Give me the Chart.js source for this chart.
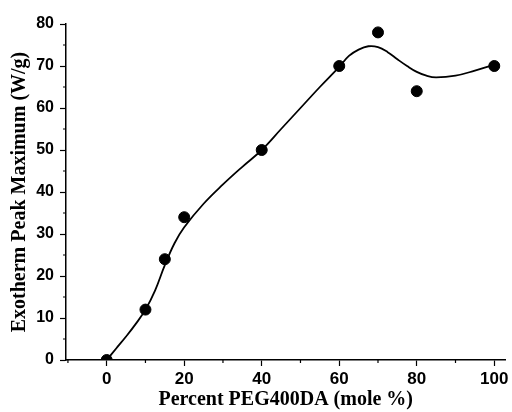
<!DOCTYPE html>
<html lang="en">
<head>
  <meta charset="UTF-8">
  <title>Exotherm Peak Maximum</title>
  <script src="https://cdn.jsdelivr.net/npm/chart.js"></script>
  <style>
    html, body { margin: 0; padding: 0; background: #fff; overflow: hidden; }
    #wrap { width: 512px; height: 412px; position: relative; }
    canvas { display: block; }
  </style>
</head>
<body>
  <div id="wrap"><canvas id="exoChart"></canvas></div>

  <script>
    // measured points
    const pegPercent = [0, 10, 15, 20, 40, 60, 70, 80, 100];
    const peakMax = [0, 12, 24, 34, 50, 70, 78, 64, 70];

    // fitted curve
    const curveX = [0, 2.5, 5, 7.5, 10, 12.5, 15, 17.5, 20, 25, 30, 35, 40, 45, 50, 55, 60, 62.5, 65, 67.5, 70, 72.5, 75, 77.5, 80, 82.5, 85, 90, 95, 100];
    const curveY = [0, 2.8, 5.6, 8.6, 12.0, 16.6, 22.6, 27.8, 31.6, 37.2, 41.8, 46.0, 50.0, 55.0, 60.0, 65.0, 69.8, 72.4, 73.9, 74.7, 74.5, 73.3, 71.6, 70.0, 68.6, 67.7, 67.3, 67.7, 68.9, 70.3];

    const xTicks = [0, 20, 40, 60, 80, 100];
    const yTicks = [0, 10, 20, 30, 40, 50, 60, 70, 80];

    const xTickFont = { family: 'Liberation Sans', size: 17, weight: 'bold' };
    const yTickFont = { family: 'Liberation Sans', size: 16, weight: 'bold' };
    const titleFont = { family: 'Liberation Serif', size: 20, weight: 'bold' };

    // short ticks halfway between the labelled ones
    const minorTicks = {
      id: 'minorTicks',
      afterDraw(chart) {
        const ctx = chart.ctx;
        const xs = chart.scales.x, ys = chart.scales.y;
        const area = chart.chartArea;
        ctx.save();
        ctx.strokeStyle = '#000';
        ctx.lineWidth = 1.2;
        ctx.beginPath();
        for (let i = 0; i < xTicks.length; i++) {
          [xTicks[i] - 10, xTicks[i] + 10].forEach(v => {
            if (v < xs.min || v > xs.max) return;
            const px = xs.getPixelForValue(v);
            ctx.moveTo(px, area.bottom);
            ctx.lineTo(px, area.bottom + 3);
          });
        }
        for (let i = 0; i < yTicks.length - 1; i++) {
          const py = ys.getPixelForValue(yTicks[i] + 5);
          ctx.moveTo(area.left, py);
          ctx.lineTo(area.left - 3, py);
        }
        ctx.stroke();
        ctx.restore();
      }
    };

    new Chart(document.getElementById('exoChart'), {
      type: 'scatter',
      data: {
        datasets: [
          {
            label: 'fit',
            data: curveX.map((x, i) => ({ x: x, y: curveY[i] })),
            showLine: true,
            borderColor: '#000',
            borderWidth: 1.8,
            pointRadius: 0,
            tension: 0.4,
            fill: false
          },
          {
            label: 'data',
            data: pegPercent.map((x, i) => ({ x: x, y: peakMax[i] })),
            backgroundColor: '#000',
            borderColor: '#000',
            pointRadius: 5.5,
            pointHoverRadius: 5.5
          }
        ]
      },
      options: {
        responsive: true,
        maintainAspectRatio: false,
        animation: false,
        layout: { padding: { top: 24, right: 0, left: 0, bottom: 0 } },
        plugins: {
          legend: { display: false },
          tooltip: { enabled: false }
        },
        scales: {
          x: {
            type: 'linear',
            min: -10.5,
            max: 102.9,
            afterBuildTicks: s => { s.ticks = xTicks.map(v => ({ value: v })); },
            afterFit: s => { s.height = 52; s.paddingLeft = 0; s.paddingRight = 0; },
            ticks: { color: '#000', font: xTickFont, padding: 3, maxRotation: 0 },
            grid: { display: true, drawOnChartArea: false, drawTicks: true, tickLength: 6, color: '#000', tickWidth: 1.2 },
            border: { display: true, color: '#000', width: 1.5 },
            title: { display: true, text: 'Percent PEG400DA (mole %)', color: '#000', font: titleFont, padding: { top: 0, bottom: 0 } }
          },
          y: {
            min: 0,
            max: 80,
            afterBuildTicks: s => { s.ticks = yTicks.map(v => ({ value: v })); },
            afterFit: s => { s.width = 66; },
            ticks: { color: '#000', font: yTickFont, padding: 6 },
            grid: { display: true, drawOnChartArea: false, drawTicks: true, tickLength: 6, color: '#000', tickWidth: 1.2 },
            border: { display: true, color: '#000', width: 1.5 },
            title: { display: true, text: 'Exotherm Peak Maximum (W/g)', color: '#000', font: titleFont, padding: { top: 8, bottom: 0 } }
          }
        }
      },
      plugins: [minorTicks]
    });
  </script>
</body>
</html>
